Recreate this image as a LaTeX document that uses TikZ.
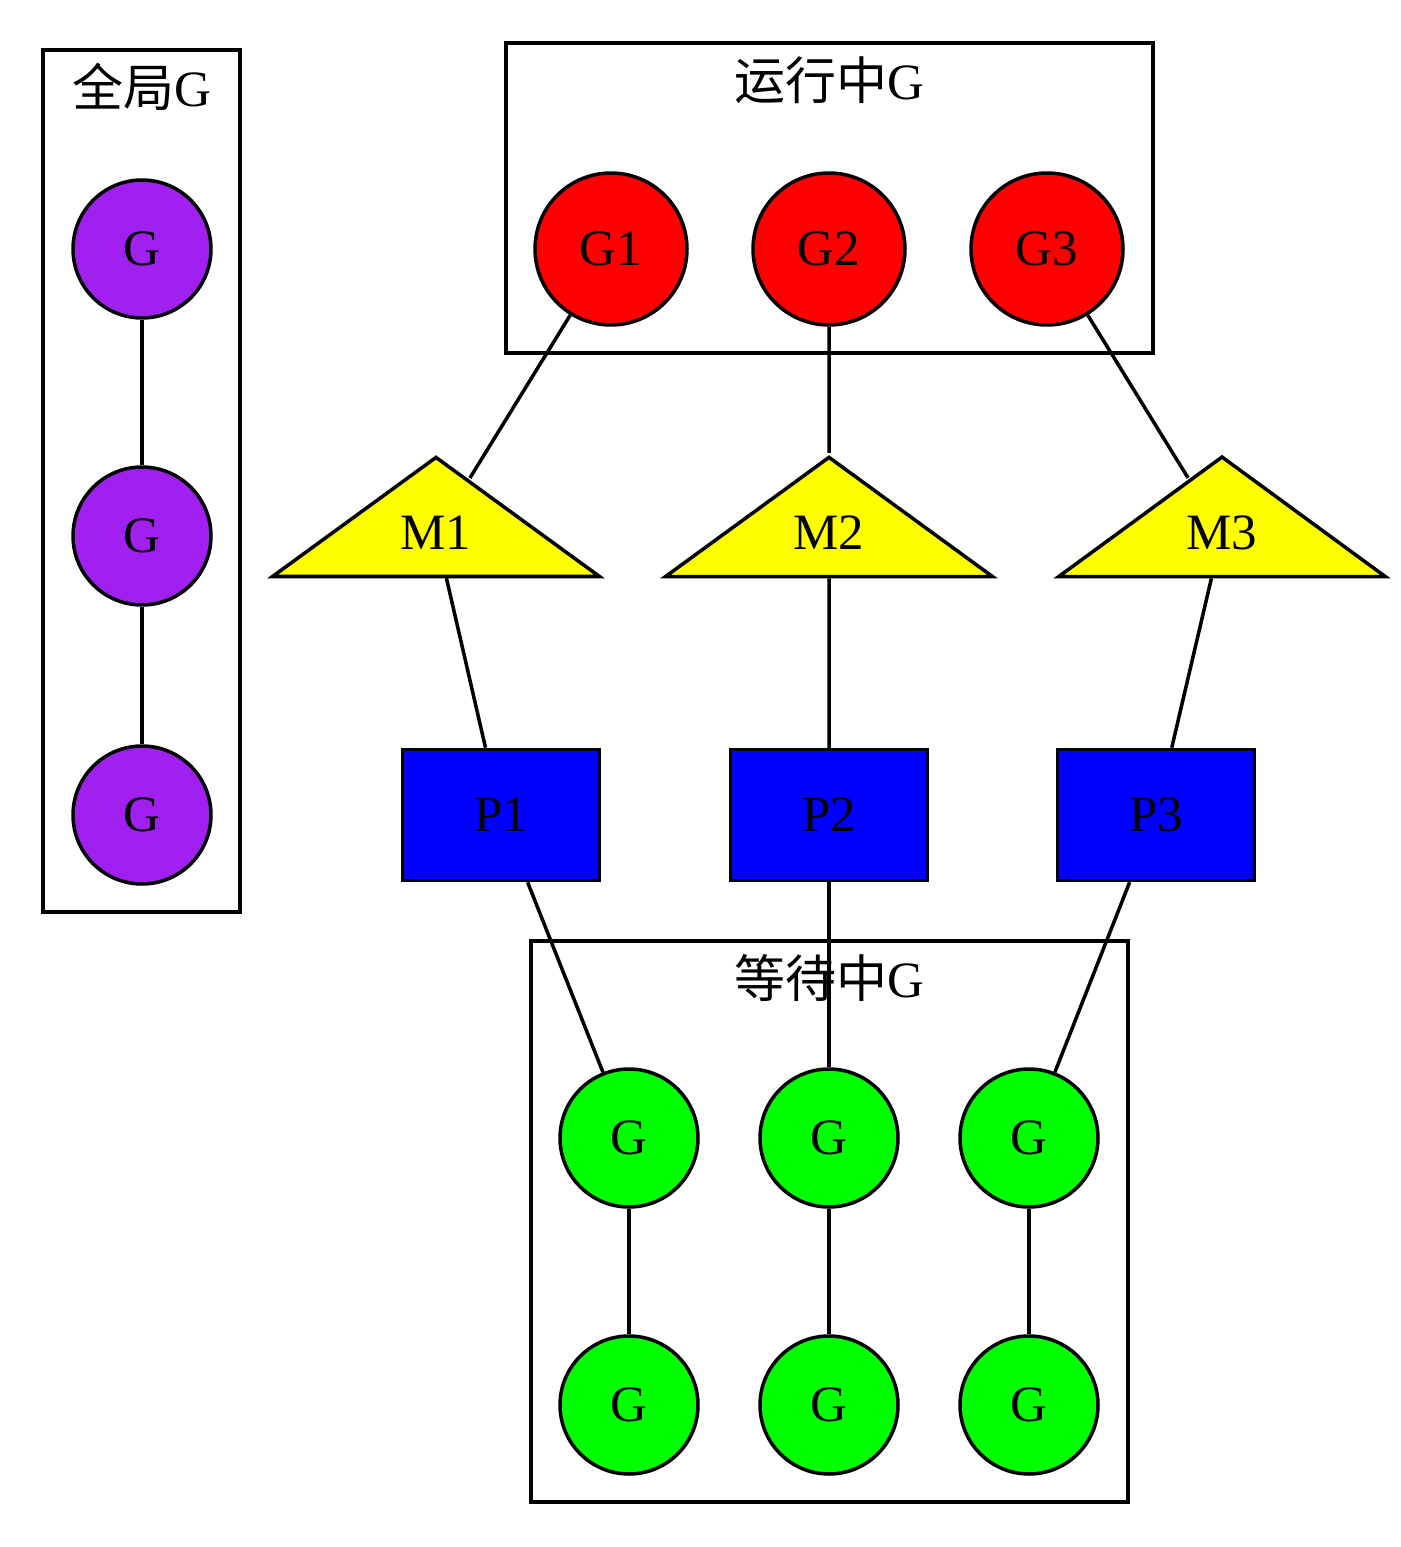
\documentclass[tikz,border=0pt]{standalone}
\usepackage{fontspec}
\setmainfont{Liberation Serif}
\newfontfamily\cjkfont{Noto Sans CJK SC}
\usetikzlibrary{shapes.geometric}

\definecolor{gpurple}{HTML}{A020F0}
\definecolor{gred}{HTML}{FF0000}
\definecolor{gyellow}{HTML}{FFFF00}
\definecolor{gblue}{HTML}{0000FF}
\definecolor{ggreen}{HTML}{00FF00}

\begin{document}
\begin{tikzpicture}[x=0.02cm,y=-0.02cm,line width=2pt,
                    font=\fontsize{29}{34}\selectfont,
                    every node/.style={inner sep=0pt}]

  \tikzstyle{gnode} = [circle,draw,minimum size=2.76cm]
  \tikzstyle{runnode} = [circle,draw,fill=gred,minimum size=3.04cm]
  \tikzstyle{mnode} = [isosceles triangle,isosceles triangle stretches,
                       shape border rotate=90,draw,fill=gyellow,
                       minimum width=6.54cm,minimum height=2.38cm]
  \tikzstyle{pnode} = [rectangle,draw,fill=gblue,minimum width=3.94cm,minimum height=2.62cm]
  \tikzstyle{title} = [anchor=base]

  \useasboundingbox (0,0) rectangle (1400,1547);

  % clusters
  \draw (43,50) rectangle (240,912);
  \draw (506,43) rectangle (1153,353);
  \draw (531,941) rectangle (1128,1502);
  \node[title] (tglobal) at (142,107) {{\cjkfont 全局}G};
  \node[title] (trun)    at (829,100) {{\cjkfont 运行中}G};
  \node[title] (twait)   at (829,997) {{\cjkfont 等待中}G};

  % global queue
  \node[gnode,fill=gpurple] (A1) at (142,249) {G};
  \node[gnode,fill=gpurple] (A2) at (142,536) {G};
  \node[gnode,fill=gpurple] (A3) at (142,815) {G};

  % running
  \node[runnode] (G1) at (611,249)  {G1};
  \node[runnode] (G2) at (829,249)  {G2};
  \node[runnode] (G3) at (1047,249) {G3};

  \node[mnode] (M1) at (436,533)  {M1};
  \node[mnode] (M2) at (829,533)  {M2};
  \node[mnode] (M3) at (1222,533) {M3};

  \node[pnode] (P1) at (501,815)  {P1};
  \node[pnode] (P2) at (829,815)  {P2};
  \node[pnode] (P3) at (1156,815) {P3};

  % waiting
  \node[gnode,fill=ggreen] (W1) at (629,1138)  {G};
  \node[gnode,fill=ggreen] (W2) at (829,1138)  {G};
  \node[gnode,fill=ggreen] (W3) at (1029,1138) {G};
  \node[gnode,fill=ggreen] (W4) at (629,1405)  {G};
  \node[gnode,fill=ggreen] (W5) at (829,1405)  {G};
  \node[gnode,fill=ggreen] (W6) at (1029,1405) {G};

  \path (A1) edge (A2)
        (A2) edge (A3)
        (G1) edge (M1)
        (G2) edge (M2)
        (G3) edge (M3)
        (M1) edge (P1)
        (M2) edge (P2)
        (M3) edge (P3)
        (P1) edge (W1)
        (P2) edge (W2)
        (P3) edge (W3)
        (W1) edge (W4)
        (W2) edge (W5)
        (W3) edge (W6);
\end{tikzpicture}
\end{document}
